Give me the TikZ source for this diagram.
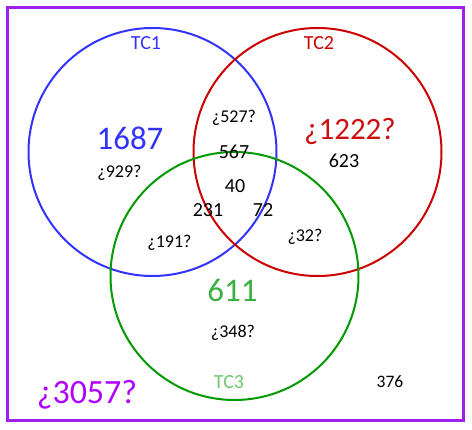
\documentclass[tikz,border=0pt]{standalone}
\usepackage{fontspec}
\setmainfont{Carlito}
\definecolor{cblue}{HTML}{3333FF}
\definecolor{cred}{HTML}{CC0000}
\definecolor{cgreen}{HTML}{009900}
\definecolor{tgreen}{HTML}{3CB043}
\definecolor{lgreen}{HTML}{70C870}
\definecolor{cpurple}{HTML}{A020F0}
\definecolor{tpurple}{HTML}{B000FF}
\definecolor{tred}{HTML}{CC1111}
\begin{document}
\begin{tikzpicture}[x=1pt,y=-1pt,
  setc/.style={circle,draw,line width=2pt,minimum size=248pt,inner sep=0pt},
  lab/.style={anchor=base,inner sep=0pt,font=\fontsize{20}{24}\selectfont},
  num/.style={anchor=base,inner sep=0pt,font=\fontsize{20}{24}\selectfont,text=black},
  qnum/.style={anchor=base,inner sep=0pt,font=\fontsize{18}{22}\selectfont,text=black},
  big/.style={anchor=base,inner sep=0pt,font=\fontsize{33}{38}\selectfont}]
\useasboundingbox (0,0) rectangle (472,430);
\draw[cpurple,line width=3pt] (7,8) rectangle (463,421);
\node[setc,draw=cblue] (c1) at (152.5,152) {};
\node[setc,draw=cred] (c2) at (317.5,152) {};
\node[setc,draw=cgreen] (c3) at (234.5,276) {};
\node[lab,text=cblue] (tc1) at (146,50) {TC1};
\node[lab,text=cred] (tc2) at (319,50) {TC2};
\node[lab,text=lgreen] (tc3) at (229,389) {TC3};
\node[big,text=cblue] (n1687) at (130,150) {1687};
\node[qnum] (q929) at (119.5,178) {¿929?};
\node[qnum] (q527) at (234,123) {¿527?};
\node[num] (n567) at (234,159) {567};
\node[big,text=tred,font=\fontsize{31}{36}\selectfont] (q1222) at (350,140) {¿1222?};
\node[num] (n623) at (344,168) {623};
\node[num] (n40) at (235,193) {40};
\node[num] (n231) at (208,217) {231};
\node[num] (n72) at (263,217) {72};
\node[qnum] (q191) at (169.5,248) {¿191?};
\node[qnum] (q32) at (305,242) {¿32?};
\node[big,text=tgreen] (n611) at (232.5,302) {611};
\node[qnum] (q348) at (233,338) {¿348?};
\node[num,font=\fontsize{17.5}{21}\selectfont] (n376) at (390,388) {376};
\node[big,text=tpurple,font=\fontsize{34}{40}\selectfont] (q3057) at (87,404) {¿3057?};
\end{tikzpicture}
\end{document}
